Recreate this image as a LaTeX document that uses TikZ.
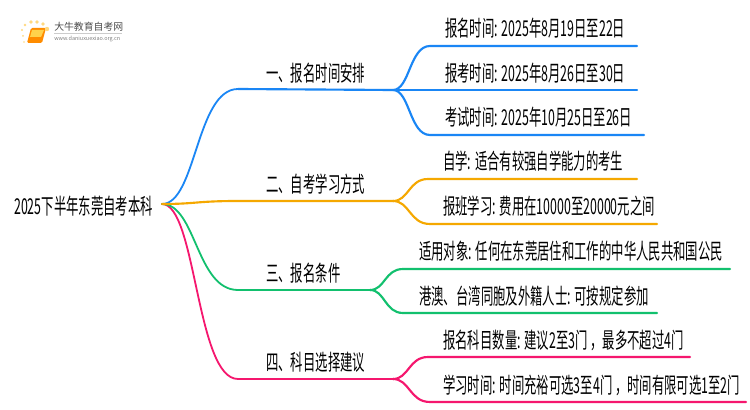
\documentclass[tikz,border=0pt]{standalone}
\usepackage{fontspec}
\setmainfont{Noto Sans CJK SC}[FakeStretch=0.565]
\newfontfamily\plainf{Noto Sans CJK SC}
\definecolor{cblue}{HTML}{1A86F5}
\definecolor{corange}{HTML}{F5A800}
\definecolor{cgreen}{HTML}{12C06E}
\definecolor{cpink}{HTML}{F5176E}
\usetikzlibrary{calc}
\tikzset{
 x=0.75pt,y=-0.75pt,
 txt/.style={anchor=west,inner sep=0pt,text=black,font=\fontsize{16.4pt}{17pt}\selectfont},
 rootn/.style={txt},
 br/.style={line width=1.6pt,line cap=round},
 thin branch/.style={line width=1.35pt},
 blue/.style={br,draw=cblue},
 orange/.style={br,draw=corange},
 green/.style={br,draw=cgreen},
 pink/.style={br,draw=cpink},
}
\newcommand\fork[4]{% style, start, knee, end
 \draw[#1] (#2) .. controls ($(#2)!0.45!(#3|-#2)$) and ($(#2|-#3)!0.45!(#3)$) .. (#3) -- (#4);}
\newcommand\mainfork[4]{% thinner curve, thicker run
 \draw[#1,thin branch] (#2) .. controls ($(#2)!0.45!(#3|-#2)$) and ($(#2|-#3)!0.45!(#3)$) .. (#3);
 \draw[#1] (#3) -- (#4);}
\begin{document}
\begin{tikzpicture}
\useasboundingbox (0,0) rectangle (750,410);
\fill[white] (0,0) rectangle (750,410);
% logo
\fill[orange!90!yellow,rounded corners=1pt] (31,28) -- (46,28) -- (42,43) -- (27,43) -- cycle;
\fill[orange!50!yellow!70] (32,30) -- (44,30) -- (41,37) -- (30,37) -- cycle;
\foreach \a/\b/\r in {47/29/2.2,43/24/1.8,37/22/1.8,31/22/1.8,25/25/1.4,22/30/1.2,23/36/1,24/42/0.8}
 \fill[orange!60!yellow!50] (\a,\b) circle[radius=\r];
\node[anchor=west,inner sep=0pt,text=black!70,font=\plainf\fontsize{7.4pt}{8pt}\selectfont] (logot) at (54,27) {大牛教育自考网};
\draw[black!20,line width=0.4pt] (54,33) -- (122,33);
\node[anchor=west,inner sep=0pt,text=black!50,font=\plainf\fontsize{4.1pt}{5pt}\selectfont] (logou) at (54,39) {www.daniuxuexiao.org.cn};
% nodes
\node[rootn] (root) at (14,206) {2025下半年东莞自考本科};
\coordinate (o) at (162,204);
\node[txt] (a) at (266,73) {一、报名时间安排};
\node[txt] (b) at (266,184) {二、自考学习方式};
\node[txt] (c) at (266,273) {三、报名条件};
\node[txt] (d) at (266,362) {四、科目选择建议};
\node[txt] (a1) at (445,28) {报名时间: 2025年8月19日至22日};
\node[txt] (a2) at (445,73) {报考时间: 2025年8月26日至30日};
\node[txt] (a3) at (445,117) {考试时间: 2025年10月25日至26日};
\node[txt] (b1) at (443,161) {自学: 适合有较强自学能力的考生};
\node[txt] (b2) at (443,206) {报班学习: 费用在10000至20000元之间};
\node[txt] (c1) at (419,251) {适用对象: 任何在东莞居住和工作的中华人民共和国公民};
\node[txt] (c2) at (419,296) {港澳、台湾同胞及外籍人士: 可按规定参加};
\node[txt] (d1) at (443,340) {报名科目数量: 建议2至3门\kern2pt，最多不超过4门};
\node[txt] (d2) at (443,385) {学习时间: 时间充裕可选3至4门\kern2pt，时间有限可选1至2门};
% coordinates
\coordinate (ak) at (238,89); \coordinate (ae) at (393,90);
\coordinate (bk) at (238,201); \coordinate (be) at (393,201);
\coordinate (ck) at (238,290); \coordinate (ce) at (370,290);
\coordinate (dk) at (238,379); \coordinate (de) at (393,379);
\coordinate (a1k) at (430,46); \coordinate (a1e) at (637,46);
\coordinate (a2k) at (430,90); \coordinate (a2e) at (637,90);
\coordinate (a3k) at (430,135); \coordinate (a3e) at (644,135);
\coordinate (b1k) at (428,179); \coordinate (b1e) at (637,179);
\coordinate (b2k) at (430,224); \coordinate (b2e) at (657,224);
\coordinate (c1k) at (403,269); \coordinate (c1e) at (730,269);
\coordinate (c2k) at (403,313); \coordinate (c2e) at (657,313);
\coordinate (d1k) at (428,357); \coordinate (d1e) at (690,357);
\coordinate (d2k) at (430,402); \coordinate (d2e) at (746,402);
% connectors
\mainfork{blue}{o}{ak}{ae}
\mainfork{pink}{o}{dk}{de}
\mainfork{green}{o}{ck}{ce}
\draw[orange] (o) .. controls ($(o)!0.45!(bk|-o)$) and ($(o|-bk)!0.45!(bk)$) .. (bk) -- (be);
\fork{blue}{ae}{a1k}{a1e}
\draw[blue] (ae) -- (a2e);
\fork{blue}{ae}{a3k}{a3e}
\fork{orange}{be}{b1k}{b1e}
\fork{orange}{be}{b2k}{b2e}
\fork{green}{ce}{c1k}{c1e}
\fork{green}{ce}{c2k}{c2e}
\fork{pink}{de}{d1k}{d1e}
\fork{pink}{de}{d2k}{d2e}
\end{tikzpicture}
\end{document}
